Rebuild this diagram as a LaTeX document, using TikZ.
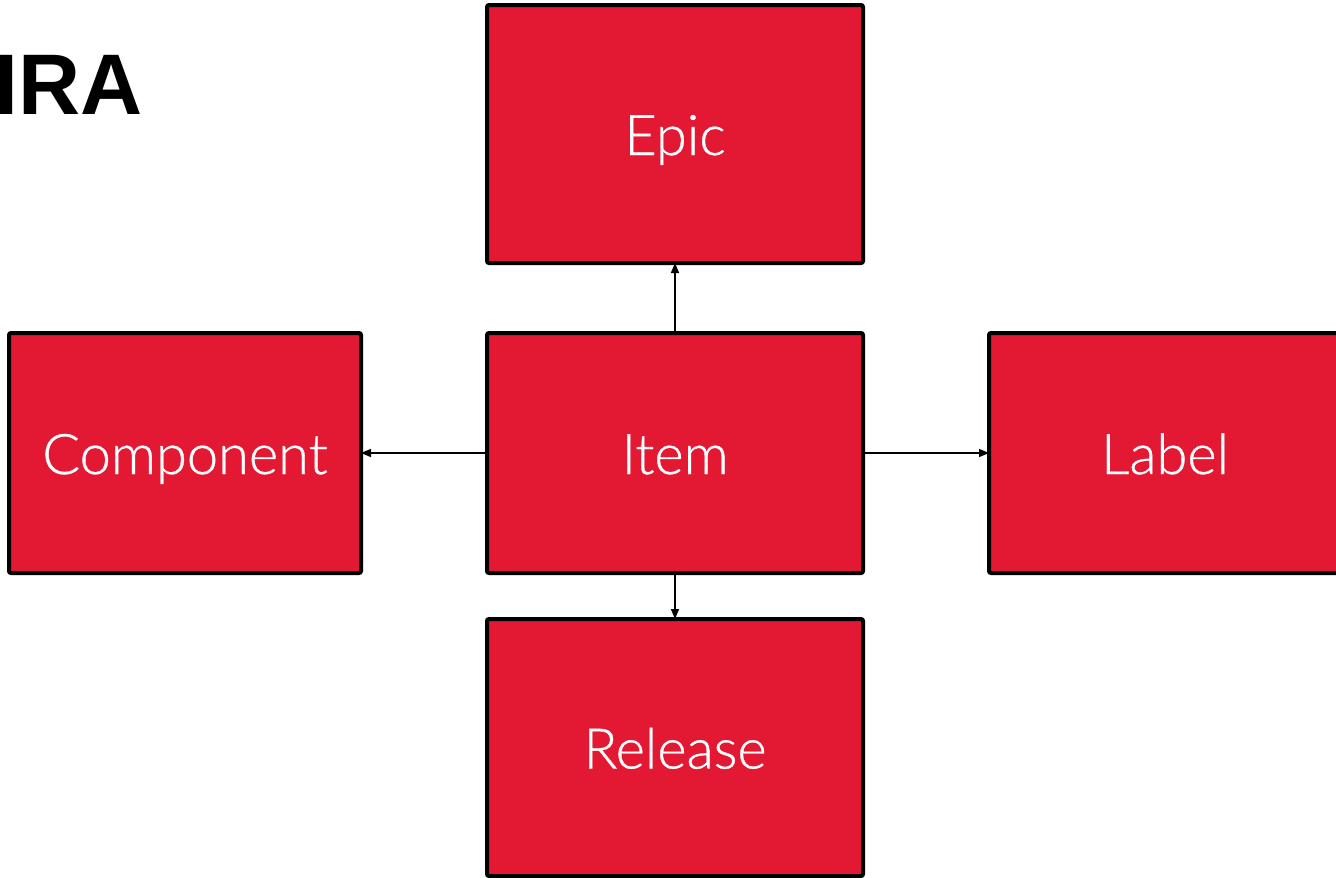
\documentclass[tikz,border=0pt]{standalone}
\usepackage{fontspec}
\setmainfont{Lato}
\newfontfamily\labfont{Lato Light}[FakeBold=0.6]
\newfontfamily\titlefont{Liberation Sans}
\usetikzlibrary{arrows.meta}
\definecolor{boxred}{HTML}{E31933}
\tikzset{
  entity/.style={draw=black, fill=boxred, line width=4pt, rounded corners=2pt,
    inner sep=0pt, outer sep=0pt, text=white, text height=42pt, text depth=0pt,
    font=\labfont\fontsize{56}{60}\selectfont},
  link/.style={draw=black, line width=1.6pt, -{Triangle[length=10pt,width=8pt]}},
}
\begin{document}
\begin{tikzpicture}[x=1pt,y=-1pt]
\useasboundingbox (0,0) rectangle (1336,878);
\clip (0,0) rectangle (1336,878);
\node[anchor=west, inner sep=0pt, font=\titlefont\bfseries\fontsize{86}{100}\selectfont] (title) at (-6,85) {IRA};
\node[entity, minimum width=376pt, minimum height=258pt] (epic) at (675,134) {Epic};
\node[entity, minimum width=376pt, minimum height=240pt] (item) at (675,453) {Item};
\node[entity, minimum width=352pt, minimum height=240pt] (comp) at (185,453) {Component};
\node[entity, minimum width=352pt, minimum height=240pt] (label) at (1165,453) {Label};
\node[entity, minimum width=376pt, minimum height=257pt] (rel) at (675,747.5) {Release};
\draw[link] (item.north) -- (epic.south);
\draw[link] (item.west) -- (comp.east);
\draw[link] (item.east) -- (label.west);
\draw[link] (item.south) -- (rel.north);
\end{tikzpicture}
\end{document}
